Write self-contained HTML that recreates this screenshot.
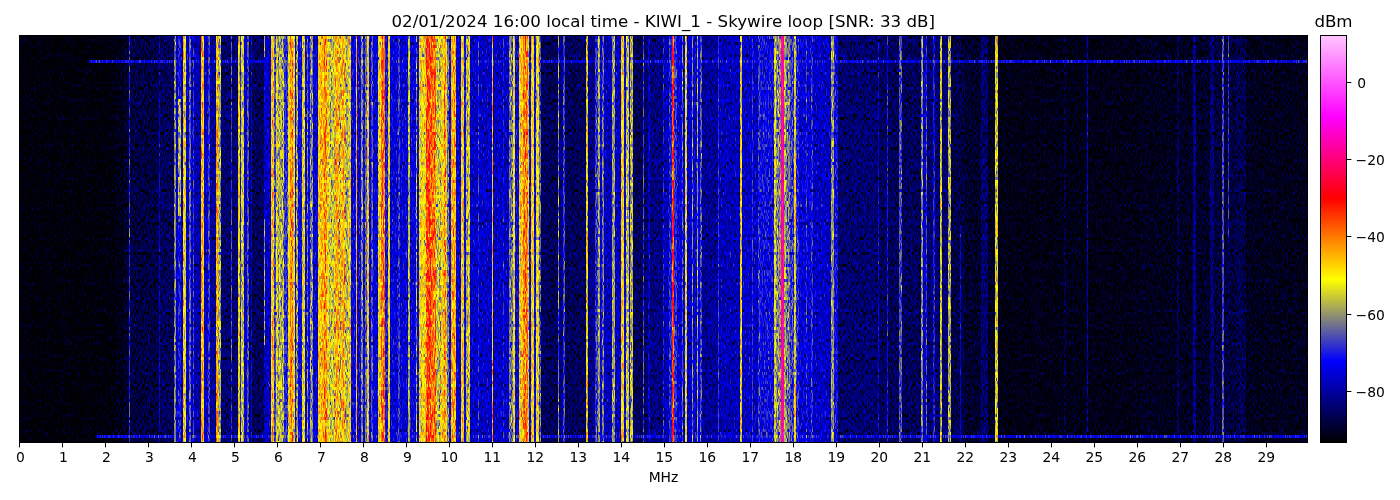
<!DOCTYPE html>
<html><head><meta charset="utf-8"><title>KIWI_1 waterfall</title>
<style>
html,body{margin:0;padding:0;background:#fff;}
body{width:1400px;height:500px;overflow:hidden;position:relative;font-family:"DejaVu Sans","Liberation Sans",sans-serif;color:#000;}
svg{position:absolute;left:0;top:0;display:block}
text{font-family:"DejaVu Sans","Liberation Sans",sans-serif;fill:#000}
.t12{font-size:16.667px}
.t10{font-size:13.889px}
</style></head><body>
<svg width="1400" height="500" viewBox="0 0 1400 500">
<defs>
<filter id="cm" x="0" y="0" width="100%" height="100%" color-interpolation-filters="sRGB">
<feTurbulence type="fractalNoise" baseFrequency="0.79 0.4" numOctaves="1" seed="7" result="n"/>
<feColorMatrix in="n" type="matrix" values="1 0 0 0 0  1 0 0 0 0  1 0 0 0 0  0 0 0 0 1" result="ng0"/>
<feComponentTransfer in="ng0" result="ng"><feFuncR type="table" tableValues="0 0.3 0.5 0.6 0.65"/><feFuncG type="table" tableValues="0 0.3 0.5 0.6 0.65"/><feFuncB type="table" tableValues="0 0.3 0.5 0.6 0.65"/></feComponentTransfer>
<feComposite in="SourceGraphic" in2="ng" operator="arithmetic" k1="0" k2="1" k3="0.6" k4="-0.300" result="sum"/>
<feTurbulence type="fractalNoise" baseFrequency="0.79 0.1" numOctaves="1" seed="3" result="m"/>
<feColorMatrix in="m" type="matrix" values="1 0 0 0 0  1 0 0 0 0  1 0 0 0 0  0 0 0 0 1" result="mg"/>
<feComposite in="sum" in2="mg" operator="arithmetic" k1="0.8" k2="0.600" k3="0" k4="0" result="sum2"/>
<feFlood x="19" y="37" width="1" height="1" flood-color="#fff" result="dot"/>
<feComposite in="dot" in2="dot" operator="over" x="19" y="36" width="1" height="3" result="cell"/>
<feTile in="cell" result="grid"/>
<feComposite in="sum2" in2="grid" operator="in" result="samp"/>
<feMorphology in="samp" operator="dilate" radius="0 1" result="pix"/>
<feComponentTransfer in="pix">
<feFuncR type="table" tableValues="0 0 1 1 1 1"/>
<feFuncG type="table" tableValues="0 0 1 0 0 0.78"/>
<feFuncB type="table" tableValues="0 1 0 0 1 1"/>
</feComponentTransfer>
</filter>
<linearGradient id="cb" x1="0" y1="1" x2="0" y2="0">
<stop offset="0" stop-color="#000000"/>
<stop offset="0.2" stop-color="#0000ff"/>
<stop offset="0.4" stop-color="#ffff00"/>
<stop offset="0.6" stop-color="#ff0000"/>
<stop offset="0.8" stop-color="#ff00ff"/>
<stop offset="1" stop-color="#ffc6ff"/>
</linearGradient>
<clipPath id="axclip"><rect x="19.5" y="35.5" width="1288.0" height="407.0"/></clipPath>
</defs>
<g filter="url(#cm)" clip-path="url(#axclip)" shape-rendering="crispEdges">
<rect x="19.5" y="35.5" width="1288.0" height="407.0" fill="#000000"/>
<rect x="20" y="35.5" width="60" height="407" fill="#000000"/>
<rect x="80" y="35.5" width="16" height="407" fill="#000000"/>
<rect x="96" y="35.5" width="4" height="407" fill="#000000"/>
<rect x="1140" y="35.5" width="37" height="407" fill="#060606"/>
<rect x="1177" y="35.5" width="2" height="407" fill="#141414"/>
<rect x="1179" y="35.5" width="14" height="407" fill="#070707"/>
<rect x="1193" y="35.5" width="3" height="407" fill="#1c1c1c"/>
<rect x="1196" y="35.5" width="14" height="407" fill="#090909"/>
<rect x="1210" y="35.5" width="4" height="407" fill="#181818"/>
<rect x="1214" y="35.5" width="8.4" height="407" fill="#0d0d0d"/>
<rect x="1222.4" y="35.5" width="1.2" height="407" fill="#424242"/>
<rect x="1223.6" y="35.5" width="4" height="407" fill="#0f0f0f"/>
<rect x="1227.6" y="35.5" width="1.2" height="204.5" fill="#3d3d3d"/>
<rect x="1227.6" y="240" width="1.2" height="202.5" fill="#141414"/>
<rect x="1228.8" y="35.5" width="7.2" height="407" fill="#0d0d0d"/>
<rect x="1236" y="35.5" width="10" height="407" fill="#111111"/>
<rect x="1246" y="35.5" width="62" height="407" fill="#060606"/>
<rect x="100" y="35.5" width="7.5" height="407" fill="#000000"/>
<rect x="107.5" y="35.5" width="8.75" height="407" fill="#010101"/>
<rect x="116.25" y="35.5" width="7.5" height="407" fill="#040404"/>
<rect x="123.75" y="35.5" width="1.25" height="407" fill="#0f0f0f"/>
<rect x="125" y="35.5" width="3.5" height="407" fill="#090909"/>
<rect x="128.5" y="35.5" width="1.75" height="407" fill="#3d3d3d"/>
<rect x="130.25" y="35.5" width="28.5" height="407" fill="#0f0f0f"/>
<rect x="158.75" y="35.5" width="1.25" height="407" fill="#2a2a2a"/>
<rect x="160" y="35.5" width="13.75" height="407" fill="#141414"/>
<rect x="173.75" y="35.5" width="2.5" height="407" fill="#4e4e4e"/>
<rect x="176.25" y="35.5" width="1.88" height="407" fill="#2a2a2a"/>
<rect x="178.12" y="35.5" width="2.5" height="407" fill="#373737"/>
<rect x="178.12" y="100" width="2.5" height="115" fill="#5a5a5a"/>
<rect x="180.62" y="35.5" width="1.88" height="407" fill="#2a2a2a"/>
<rect x="182.5" y="35.5" width="1.5" height="407" fill="#646464"/>
<rect x="182.62" y="35.5" width="1.26" height="407" fill="#707070"/>
<rect x="184" y="35.5" width="2.25" height="407" fill="#646464"/>
<rect x="186.25" y="35.5" width="2.75" height="407" fill="#2a2a2a"/>
<rect x="189" y="35.5" width="2" height="407" fill="#474747"/>
<rect x="191" y="35.5" width="2.12" height="407" fill="#2a2a2a"/>
<rect x="193.12" y="35.5" width="0.88" height="407" fill="#3d3d3d"/>
<rect x="194" y="35.5" width="7.25" height="407" fill="#242424"/>
<rect x="201.25" y="35.5" width="2.75" height="407" fill="#757575"/>
<rect x="204" y="35.5" width="3.5" height="407" fill="#2a2a2a"/>
<rect x="207.5" y="35.5" width="2.5" height="407" fill="#3f3f3f"/>
<rect x="210" y="35.5" width="6.25" height="407" fill="#202020"/>
<rect x="216.25" y="35.5" width="1.88" height="407" fill="#777777"/>
<rect x="218.12" y="35.5" width="2.5" height="407" fill="#585858"/>
<rect x="220.62" y="35.5" width="10" height="407" fill="#181818"/>
<rect x="230.62" y="35.5" width="1.25" height="407" fill="#3f3f3f"/>
<rect x="231.88" y="35.5" width="5.62" height="407" fill="#181818"/>
<rect x="237.5" y="35.5" width="2.5" height="407" fill="#666666"/>
<rect x="240" y="35.5" width="1.25" height="407" fill="#373737"/>
<rect x="241.25" y="35.5" width="2.5" height="407" fill="#5f5f5f"/>
<rect x="243.75" y="35.5" width="3.12" height="407" fill="#2a2a2a"/>
<rect x="246.88" y="35.5" width="1.88" height="407" fill="#424242"/>
<rect x="248.75" y="35.5" width="15" height="407" fill="#141414"/>
<rect x="251.25" y="35.5" width="1" height="407" fill="#2e2e2e"/>
<rect x="263.75" y="35.5" width="1.25" height="407" fill="#2a2a2a"/>
<rect x="263.75" y="220" width="1.25" height="125" fill="#585858"/>
<rect x="263.75" y="35.5" width="1.25" height="20.5" fill="#585858"/>
<rect x="265" y="35.5" width="6.25" height="407" fill="#2a2a2a"/>
<rect x="271.25" y="35.5" width="3.12" height="407" fill="#727272"/>
<rect x="274.38" y="35.5" width="1.88" height="407" fill="#424242"/>
<rect x="276.25" y="35.5" width="1.88" height="407" fill="#5f5f5f"/>
<rect x="278.12" y="35.5" width="5.62" height="407" fill="#585858"/>
<rect x="283.75" y="35.5" width="4.38" height="407" fill="#3d3d3d"/>
<rect x="288.12" y="35.5" width="1.88" height="407" fill="#696969"/>
<rect x="290" y="35.5" width="3.12" height="407" fill="#818181"/>
<rect x="293.12" y="35.5" width="1.88" height="407" fill="#646464"/>
<rect x="295" y="35.5" width="1.25" height="407" fill="#313131"/>
<rect x="296.25" y="35.5" width="1.5" height="407" fill="#313131"/>
<rect x="296.37" y="35.5" width="1.26" height="407" fill="#555555"/>
<rect x="297.75" y="35.5" width="4.12" height="407" fill="#313131"/>
<rect x="301.88" y="35.5" width="2.88" height="407" fill="#646464"/>
<rect x="304.75" y="35.5" width="2.12" height="407" fill="#313131"/>
<rect x="306.88" y="35.5" width="1.25" height="407" fill="#4c4c4c"/>
<rect x="308.12" y="35.5" width="1.88" height="407" fill="#313131"/>
<rect x="310" y="35.5" width="2.5" height="407" fill="#505050"/>
<rect x="312.5" y="35.5" width="5.62" height="407" fill="#2e2e2e"/>
<rect x="318.12" y="35.5" width="2.5" height="407" fill="#707070"/>
<rect x="320.62" y="35.5" width="3.12" height="407" fill="#757575"/>
<rect x="323.75" y="35.5" width="3.12" height="407" fill="#818181"/>
<rect x="326.88" y="35.5" width="3.12" height="407" fill="#646464"/>
<rect x="330" y="35.5" width="5" height="407" fill="#5d5d5d"/>
<rect x="335" y="35.5" width="3.75" height="407" fill="#7a7a7a"/>
<rect x="338.75" y="35.5" width="2.5" height="407" fill="#5d5d5d"/>
<rect x="341.25" y="35.5" width="3.75" height="407" fill="#777777"/>
<rect x="345" y="35.5" width="3.12" height="407" fill="#585858"/>
<rect x="348.12" y="35.5" width="3.12" height="407" fill="#666666"/>
<rect x="351.25" y="35.5" width="4.38" height="407" fill="#313131"/>
<rect x="355.62" y="35.5" width="1.25" height="407" fill="#777777"/>
<rect x="356.88" y="35.5" width="3.75" height="407" fill="#313131"/>
<rect x="360.62" y="35.5" width="1.88" height="407" fill="#505050"/>
<rect x="362.5" y="35.5" width="2.5" height="407" fill="#313131"/>
<rect x="365" y="35.5" width="1.88" height="407" fill="#494949"/>
<rect x="366.88" y="35.5" width="2.12" height="407" fill="#6b6b6b"/>
<rect x="369" y="35.5" width="9.12" height="407" fill="#2e2e2e"/>
<rect x="371.25" y="35.5" width="1.25" height="407" fill="#424242"/>
<rect x="378.12" y="35.5" width="3.12" height="407" fill="#666666"/>
<rect x="381.25" y="35.5" width="3.75" height="407" fill="#868686"/>
<rect x="385" y="35.5" width="2.5" height="407" fill="#373737"/>
<rect x="387.5" y="35.5" width="2.5" height="407" fill="#666666"/>
<rect x="390" y="35.5" width="17.5" height="407" fill="#2e2e2e"/>
<rect x="397.5" y="35.5" width="2.5" height="407" fill="#3f3f3f"/>
<rect x="407.5" y="35.5" width="2.5" height="407" fill="#5a5a5a"/>
<rect x="410" y="35.5" width="5.62" height="407" fill="#2e2e2e"/>
<rect x="415.62" y="35.5" width="1.25" height="407" fill="#555555"/>
<rect x="416.88" y="35.5" width="2.5" height="407" fill="#313131"/>
<rect x="419.38" y="35.5" width="6.25" height="407" fill="#696969"/>
<rect x="425.62" y="35.5" width="5.62" height="407" fill="#8f8f8f"/>
<rect x="431.25" y="35.5" width="4.38" height="407" fill="#868686"/>
<rect x="435.62" y="35.5" width="4.38" height="407" fill="#5d5d5d"/>
<rect x="440" y="35.5" width="1.25" height="407" fill="#5d5d5d"/>
<rect x="441.25" y="35.5" width="2.5" height="407" fill="#6d6d6d"/>
<rect x="443.75" y="35.5" width="1.88" height="407" fill="#7e7e7e"/>
<rect x="445.62" y="35.5" width="1.25" height="407" fill="#646464"/>
<rect x="446.88" y="35.5" width="1.88" height="407" fill="#4c4c4c"/>
<rect x="448.75" y="35.5" width="2.5" height="407" fill="#313131"/>
<rect x="451.25" y="35.5" width="4.38" height="407" fill="#777777"/>
<rect x="455.62" y="35.5" width="5" height="407" fill="#2e2e2e"/>
<rect x="460.62" y="35.5" width="3.12" height="407" fill="#6d6d6d"/>
<rect x="463.75" y="35.5" width="1.88" height="407" fill="#313131"/>
<rect x="465.62" y="35.5" width="2.5" height="407" fill="#585858"/>
<rect x="468.12" y="35.5" width="1.88" height="407" fill="#646464"/>
<rect x="470" y="35.5" width="21.88" height="407" fill="#2a2a2a"/>
<rect x="477.5" y="35.5" width="1.25" height="407" fill="#3d3d3d"/>
<rect x="491.88" y="35.5" width="1.25" height="407" fill="#777777"/>
<rect x="493.12" y="35.5" width="9.38" height="407" fill="#2a2a2a"/>
<rect x="502.5" y="35.5" width="1.88" height="407" fill="#373737"/>
<rect x="504.38" y="35.5" width="5" height="407" fill="#2a2a2a"/>
<rect x="509.38" y="35.5" width="3.12" height="407" fill="#4c4c4c"/>
<rect x="512.5" y="35.5" width="2.5" height="407" fill="#666666"/>
<rect x="515" y="35.5" width="4.38" height="407" fill="#313131"/>
<rect x="519.38" y="35.5" width="3.12" height="407" fill="#6d6d6d"/>
<rect x="522.5" y="35.5" width="5" height="407" fill="#838383"/>
<rect x="527.5" y="35.5" width="1.88" height="407" fill="#5f5f5f"/>
<rect x="529.38" y="35.5" width="1.88" height="407" fill="#313131"/>
<rect x="531.25" y="35.5" width="2.5" height="407" fill="#6b6b6b"/>
<rect x="533.75" y="35.5" width="1.88" height="407" fill="#313131"/>
<rect x="535.62" y="35.5" width="3.12" height="407" fill="#666666"/>
<rect x="538.75" y="35.5" width="1.88" height="407" fill="#474747"/>
<rect x="540.62" y="35.5" width="16.88" height="407" fill="#141414"/>
<rect x="557.5" y="35.5" width="1.88" height="407" fill="#505050"/>
<rect x="559.38" y="35.5" width="3.75" height="407" fill="#1c1c1c"/>
<rect x="563.12" y="35.5" width="1.88" height="407" fill="#3f3f3f"/>
<rect x="565" y="35.5" width="20.62" height="407" fill="#141414"/>
<rect x="585.62" y="35.5" width="1.88" height="407" fill="#646464"/>
<rect x="587.5" y="35.5" width="0.62" height="407" fill="#1c1c1c"/>
<rect x="588.12" y="35.5" width="6.88" height="407" fill="#1c1c1c"/>
<rect x="595" y="35.5" width="3.12" height="407" fill="#3f3f3f"/>
<rect x="598.12" y="35.5" width="1.88" height="407" fill="#555555"/>
<rect x="600" y="35.5" width="1.88" height="407" fill="#2e2e2e"/>
<rect x="601.88" y="35.5" width="1.88" height="407" fill="#494949"/>
<rect x="603.75" y="35.5" width="8.12" height="407" fill="#272727"/>
<rect x="611.88" y="35.5" width="3.12" height="407" fill="#555555"/>
<rect x="615" y="35.5" width="5.62" height="407" fill="#2a2a2a"/>
<rect x="620.62" y="35.5" width="3.12" height="407" fill="#6b6b6b"/>
<rect x="623.75" y="35.5" width="2.25" height="407" fill="#2e2e2e"/>
<rect x="626" y="35.5" width="2.5" height="407" fill="#5d5d5d"/>
<rect x="628.5" y="35.5" width="1.75" height="407" fill="#2e2e2e"/>
<rect x="630.25" y="35.5" width="2.5" height="407" fill="#5a5a5a"/>
<rect x="632.75" y="35.5" width="10" height="407" fill="#141414"/>
<rect x="642.75" y="35.5" width="1.25" height="407" fill="#424242"/>
<rect x="644" y="35.5" width="3.75" height="407" fill="#181818"/>
<rect x="647.75" y="35.5" width="2" height="407" fill="#2a2a2a"/>
<rect x="649.75" y="35.5" width="12.75" height="407" fill="#1c1c1c"/>
<rect x="662.5" y="35.5" width="1" height="407" fill="#373737"/>
<rect x="663.5" y="35.5" width="5.25" height="407" fill="#272727"/>
<rect x="668.75" y="35.5" width="3.12" height="407" fill="#3a3a3a"/>
<rect x="671.88" y="35.5" width="1.88" height="407" fill="#949494"/>
<rect x="673.75" y="35.5" width="3.12" height="407" fill="#3d3d3d"/>
<rect x="676.88" y="35.5" width="5" height="407" fill="#2e2e2e"/>
<rect x="681.88" y="35.5" width="1.62" height="407" fill="#2e2e2e"/>
<rect x="682.06" y="35.5" width="1.26" height="407" fill="#494949"/>
<rect x="683.5" y="35.5" width="1.5" height="407" fill="#2e2e2e"/>
<rect x="685" y="35.5" width="2.25" height="407" fill="#666666"/>
<rect x="687.25" y="35.5" width="4.62" height="407" fill="#2a2a2a"/>
<rect x="691.88" y="35.5" width="1.25" height="407" fill="#505050"/>
<rect x="693.12" y="35.5" width="3.75" height="407" fill="#2e2e2e"/>
<rect x="696.88" y="35.5" width="1.25" height="407" fill="#555555"/>
<rect x="698.12" y="35.5" width="1.88" height="407" fill="#2e2e2e"/>
<rect x="700" y="35.5" width="1.88" height="407" fill="#444444"/>
<rect x="701.88" y="35.5" width="16.25" height="407" fill="#202020"/>
<rect x="718.12" y="35.5" width="0.88" height="407" fill="#3d3d3d"/>
<rect x="719" y="35.5" width="21" height="407" fill="#272727"/>
<rect x="740" y="35.5" width="1.88" height="407" fill="#666666"/>
<rect x="741.88" y="35.5" width="10" height="407" fill="#2a2a2a"/>
<rect x="751.88" y="35.5" width="0.88" height="407" fill="#3d3d3d"/>
<rect x="752.75" y="35.5" width="4.75" height="407" fill="#2a2a2a"/>
<rect x="757.5" y="35.5" width="2.5" height="407" fill="#3d3d3d"/>
<rect x="760" y="35.5" width="13.75" height="407" fill="#343434"/>
<rect x="773.75" y="35.5" width="1.88" height="407" fill="#616161"/>
<rect x="775.62" y="35.5" width="5.62" height="407" fill="#505050"/>
<rect x="781.25" y="35.5" width="2.75" height="407" fill="#bdbdbd"/>
<rect x="784" y="35.5" width="2.25" height="407" fill="#585858"/>
<rect x="786.25" y="35.5" width="3.75" height="407" fill="#4c4c4c"/>
<rect x="790" y="35.5" width="3.75" height="407" fill="#3f3f3f"/>
<rect x="793.75" y="35.5" width="2.25" height="407" fill="#5f5f5f"/>
<rect x="796" y="35.5" width="2.75" height="407" fill="#3a3a3a"/>
<rect x="798.75" y="35.5" width="11.88" height="407" fill="#2e2e2e"/>
<rect x="810.62" y="35.5" width="2.5" height="407" fill="#3a3a3a"/>
<rect x="813.12" y="35.5" width="17.5" height="407" fill="#2a2a2a"/>
<rect x="830.62" y="35.5" width="3.12" height="407" fill="#535353"/>
<rect x="833.75" y="35.5" width="3.75" height="407" fill="#343434"/>
<rect x="837.5" y="35.5" width="40" height="407" fill="#181818"/>
<rect x="877.5" y="35.5" width="1.25" height="407" fill="#313131"/>
<rect x="878.75" y="35.5" width="8.12" height="407" fill="#141414"/>
<rect x="886.88" y="35.5" width="1.25" height="407" fill="#373737"/>
<rect x="888.12" y="35.5" width="10.62" height="407" fill="#141414"/>
<rect x="898.75" y="35.5" width="3.12" height="407" fill="#444444"/>
<rect x="901.88" y="35.5" width="19.38" height="407" fill="#141414"/>
<rect x="921.25" y="35.5" width="1.5" height="407" fill="#2a2a2a"/>
<rect x="921.37" y="35.5" width="1.26" height="407" fill="#505050"/>
<rect x="922.75" y="35.5" width="2.88" height="407" fill="#2a2a2a"/>
<rect x="925.62" y="35.5" width="1.25" height="407" fill="#424242"/>
<rect x="926.88" y="35.5" width="5.62" height="407" fill="#181818"/>
<rect x="932.5" y="35.5" width="2.5" height="407" fill="#373737"/>
<rect x="935" y="35.5" width="5" height="407" fill="#181818"/>
<rect x="940" y="35.5" width="1.88" height="407" fill="#5d5d5d"/>
<rect x="941.88" y="35.5" width="5.88" height="407" fill="#181818"/>
<rect x="947.75" y="35.5" width="3.25" height="407" fill="#585858"/>
<rect x="951" y="35.5" width="9" height="407" fill="#111111"/>
<rect x="960" y="35.5" width="1.25" height="407" fill="#111111"/>
<rect x="960" y="225" width="1.25" height="217.5" fill="#2e2e2e"/>
<rect x="961.25" y="35.5" width="3.75" height="407" fill="#0f0f0f"/>
<rect x="965" y="35.5" width="16.25" height="407" fill="#0a0a0a"/>
<rect x="981.25" y="35.5" width="6.25" height="407" fill="#181818"/>
<rect x="987.5" y="35.5" width="7.5" height="407" fill="#070707"/>
<rect x="995" y="35.5" width="3.12" height="407" fill="#616161"/>
<rect x="998.12" y="35.5" width="65.62" height="407" fill="#040404"/>
<rect x="1063.75" y="35.5" width="1.88" height="407" fill="#0f0f0f"/>
<rect x="1065.62" y="35.5" width="21.25" height="407" fill="#040404"/>
<rect x="1086.88" y="35.5" width="1.25" height="407" fill="#272727"/>
<rect x="1088.12" y="35.5" width="51.88" height="407" fill="#040404"/>
<rect x="794.3" y="155" width="1.8" height="73" fill="#707070"/>
<rect x="794.3" y="385" width="1.8" height="55" fill="#707070"/>
<rect x="805.6" y="35.5" width="1.3" height="407" fill="#3d3d3d"/>
<rect x="89" y="60" width="1219" height="2.5" fill="#2d2d2d" style="mix-blend-mode:lighten"/>
<rect x="96" y="436" width="1212" height="2.5" fill="#2d2d2d" style="mix-blend-mode:lighten"/>
<rect x="89" y="60" width="1219" height="2.5" fill="#fff" fill-opacity="0.03"/>
<rect x="96" y="436" width="1212" height="2.5" fill="#fff" fill-opacity="0.03"/>
</g>
<rect x="781" y="35.5" width="3" height="407.0" fill="#ff00a8" fill-opacity="0.6" shape-rendering="crispEdges"/>
<rect x="19.5" y="35.5" width="1288.0" height="407.0" fill="none" stroke="#000" stroke-width="1"/>
<path d="M19.5 442.5v4.86 M62.5 442.5v4.86 M105.5 442.5v4.86 M148.5 442.5v4.86 M191.5 442.5v4.86 M234.5 442.5v4.86 M277.5 442.5v4.86 M320.5 442.5v4.86 M363.5 442.5v4.86 M406.5 442.5v4.86 M449.5 442.5v4.86 M492.5 442.5v4.86 M535.5 442.5v4.86 M578.5 442.5v4.86 M621.5 442.5v4.86 M664.5 442.5v4.86 M707.5 442.5v4.86 M750.5 442.5v4.86 M793.5 442.5v4.86 M836.5 442.5v4.86 M879.5 442.5v4.86 M922.5 442.5v4.86 M965.5 442.5v4.86 M1008.5 442.5v4.86 M1051.5 442.5v4.86 M1094.5 442.5v4.86 M1137.5 442.5v4.86 M1180.5 442.5v4.86 M1223.5 442.5v4.86 M1266.5 442.5v4.86" stroke="#000" stroke-width="1" fill="none"/>
<g class="t10" text-anchor="middle">
<text x="20.3" y="461.5">0</text>
<text x="63.3" y="461.5">1</text>
<text x="106.3" y="461.5">2</text>
<text x="149.3" y="461.5">3</text>
<text x="192.3" y="461.5">4</text>
<text x="235.3" y="461.5">5</text>
<text x="278.3" y="461.5">6</text>
<text x="321.3" y="461.5">7</text>
<text x="364.3" y="461.5">8</text>
<text x="407.3" y="461.5">9</text>
<text x="449.3" y="461.5">10</text>
<text x="492.3" y="461.5">11</text>
<text x="535.3" y="461.5">12</text>
<text x="578.3" y="461.5">13</text>
<text x="621.3" y="461.5">14</text>
<text x="664.3" y="461.5">15</text>
<text x="707.3" y="461.5">16</text>
<text x="750.3" y="461.5">17</text>
<text x="793.3" y="461.5">18</text>
<text x="836.3" y="461.5">19</text>
<text x="879.3" y="461.5">20</text>
<text x="922.3" y="461.5">21</text>
<text x="965.3" y="461.5">22</text>
<text x="1008.3" y="461.5">23</text>
<text x="1051.3" y="461.5">24</text>
<text x="1094.3" y="461.5">25</text>
<text x="1137.3" y="461.5">26</text>
<text x="1180.3" y="461.5">27</text>
<text x="1223.3" y="461.5">28</text>
<text x="1266.3" y="461.5">29</text>
<text x="663.5" y="482">MHz</text>
</g>
<text class="t12" text-anchor="middle" x="663.2" y="26.8" textLength="543.6" lengthAdjust="spacing">02/01/2024 16:00 local time - KIWI_1 - Skywire loop [SNR: 33 dB]</text>
<rect x="1320.5" y="35.5" width="26.0" height="407.0" fill="url(#cb)" stroke="#000" stroke-width="1"/>
<text class="t12" text-anchor="middle" x="1333.5" y="26.8">dBm</text>
<g class="t10">
<text x="1357.3" y="87.7">0</text>
<text x="1355.6" y="164.7">−20</text>
<text x="1355.6" y="241.7">−40</text>
<text x="1355.6" y="319.7">−60</text>
<text x="1355.6" y="396.7">−80</text>
</g>
<path d="M1346.5 82.5h4.86 M1346.5 159.5h4.86 M1346.5 236.5h4.86 M1346.5 314.5h4.86 M1346.5 391.5h4.86" stroke="#000" stroke-width="1" fill="none"/>
</svg>
</body></html>
